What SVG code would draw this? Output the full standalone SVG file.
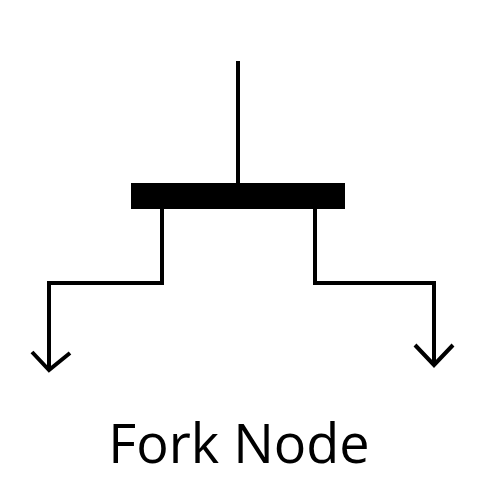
<svg xmlns="http://www.w3.org/2000/svg" width="500" height="500" viewBox="0 0 500 500">
<style>
.ln{fill:none;stroke:#000;stroke-width:4;stroke-linejoin:miter;stroke-linecap:butt}
.lbl{font-family:"Open Sans","Liberation Sans",sans-serif;font-size:54px;fill:#000}
</style>
<rect width="500" height="500" fill="#fff"/>
<g id="fork">
<rect x="131" y="183" width="214" height="26" fill="#000"/>
</g>
<g id="connectors">
<path class="ln" d="M238 61 V183"/>
<path class="ln" d="M162 209 V283 H49 V370"/>
<path class="ln" d="M32 352 L49 370 L70 353"/>
<path class="ln" d="M315 209 V283 H434 V365"/>
<path class="ln" d="M415 345 L434 365 L453 345"/>
</g>
<g id="label">
<text class="lbl" x="239" y="463" text-anchor="middle">Fork Node</text>
</g>
</svg>
